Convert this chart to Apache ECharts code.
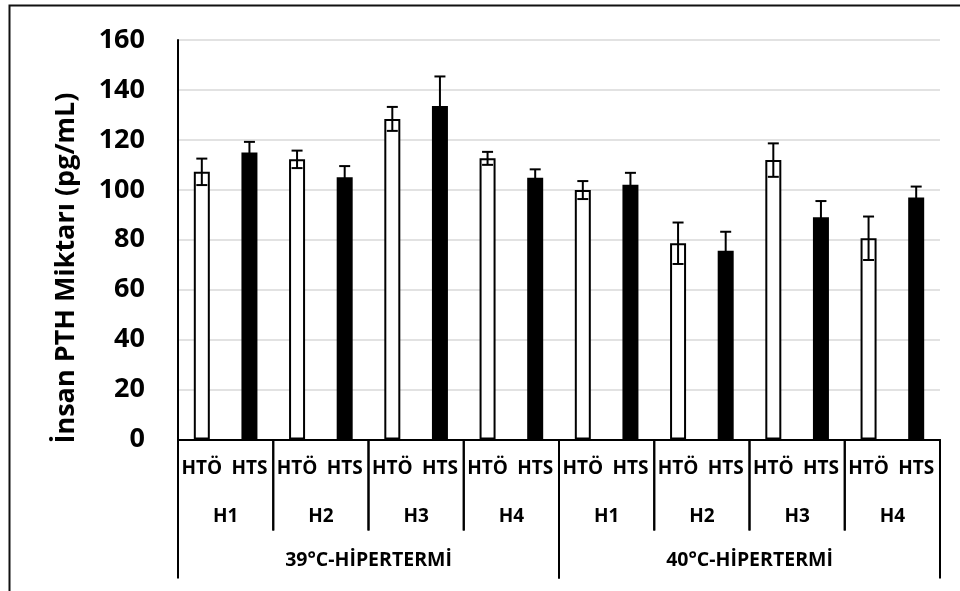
<!DOCTYPE html>
<html>
<head>
<meta charset="utf-8">
<script src="https://cdn.jsdelivr.net/npm/echarts@6/dist/echarts.min.js"></script>
<style>
  html, body { margin: 0; padding: 0; background: #fff; }
  #chart { width: 960px; height: 591px; }
</style>
</head>
<body>
<div id="chart"></div>
<script>
// Human PTH levels (pg/mL) per sample, treatment and hyperthermia temperature
const treatments = ['HTÖ', 'HTS'];
const subGroups = ['H1', 'H2', 'H3', 'H4', 'H1', 'H2', 'H3', 'H4'];
const tempGroups = ['39°C-HİPERTERMİ', '40°C-HİPERTERMİ'];
const htoMeans = [107.2, 112.2, 128.4, 112.6, 99.9, 78.6, 111.9, 80.6];
const htoErrors = [5.3, 3.5, 4.8, 2.6, 3.6, 8.3, 6.7, 8.7];
const htsMeans = [114.9, 105.0, 133.6, 104.8, 102.0, 75.6, 89.0, 96.9];
const htsErrors = [4.3, 4.5, 11.8, 3.4, 4.8, 7.6, 6.5, 4.4];
const yTicks = [0, 20, 40, 60, 80, 100, 120, 140, 160];
const yTitle = 'İnsan PTH Miktarı (pg/mL)';

const FONT = '"Open Sans"';

// Flatten into the 16 bottom-level categories
const categories = [];
const barData = [];
const errData = [];
subGroups.forEach((g, i) => {
  categories.push(treatments[0], treatments[1]);
  barData.push({
    value: htoMeans[i],
    itemStyle: { color: '#ffffff', borderColor: '#000', borderWidth: 2 }
  });
  barData.push({
    value: htsMeans[i],
    itemStyle: { color: '#000000', borderColor: '#000', borderWidth: 0 }
  });
  errData.push([2 * i, htoMeans[i], htoErrors[i]]);
  errData.push([2 * i + 1, htsMeans[i], htsErrors[i]]);
});

// Bracket rows under the axis: [startIndex, endIndex, label, level]
const bracketData = [];
subGroups.forEach((g, i) => bracketData.push([2 * i, 2 * i + 1, g, 1]));
tempGroups.forEach((g, i) => bracketData.push([8 * i, 8 * i + 7, g, 2]));

const chart = echarts.init(document.getElementById('chart'), null, { renderer: 'canvas' });

function renderError(params, api) {
  const x = api.value(0), m = api.value(1), e = api.value(2);
  const top = api.coord([x, m + e]);
  const bot = api.coord([x, m - e]);
  const cap = 5.5;
  const st = { stroke: '#000', lineWidth: 2, fill: null };
  return {
    type: 'group',
    children: [
      { type: 'line', shape: { x1: top[0], y1: top[1], x2: bot[0], y2: bot[1] }, style: st },
      { type: 'line', shape: { x1: top[0] - cap, y1: top[1], x2: top[0] + cap, y2: top[1] }, style: st },
      { type: 'line', shape: { x1: bot[0] - cap, y1: bot[1], x2: bot[0] + cap, y2: bot[1] }, style: st }
    ]
  };
}

function renderBracket(params, api) {
  const s = api.value(0), e = api.value(1), level = api.value(3);
  const label = bracketData[params.dataIndex][2];
  const band = api.size([1, 0])[0];
  const p0 = api.coord([s, 0]);
  const p1 = api.coord([e, 0]);
  const xl = p0[0] - band / 2;
  const xr = p1[0] + band / 2;
  const y0 = p0[1];
  const yEnd = level === 1 ? y0 + 91 : y0 + 139;
  const labelY = level === 1 ? y0 + 77.5 : y0 + 121;
  const size = level === 1 ? 19 : 19.5;
  const st = { stroke: '#000', lineWidth: 2 };
  return {
    type: 'group',
    children: [
      { type: 'line', shape: { x1: xl, y1: y0, x2: xl, y2: yEnd }, style: st },
      { type: 'line', shape: { x1: xr, y1: y0, x2: xr, y2: yEnd }, style: st },
      {
        type: 'text',
        style: {
          x: (xl + xr) / 2, y: labelY, text: label,
          fill: '#000', font: 'bold ' + size + 'px ' + FONT,
          textAlign: 'center', textVerticalAlign: 'middle'
        }
      }
    ]
  };
}

chart.setOption({
  animation: false,
  backgroundColor: '#ffffff',
  grid: { left: 178, right: 20, top: 40, bottom: 151.5, containLabel: false },
  xAxis: {
    type: 'category',
    data: categories,
    axisLine: { show: true, lineStyle: { color: '#000', width: 2 } },
    axisTick: { show: false },
    axisLabel: {
      interval: 0, margin: 20, color: '#000',
      fontFamily: FONT, fontWeight: 'bold', fontSize: 19
    },
    splitLine: { show: false }
  },
  yAxis: {
    type: 'value',
    min: yTicks[0], max: yTicks[yTicks.length - 1], interval: 20,
    axisLine: { show: true, lineStyle: { color: '#000', width: 2 } },
    axisTick: { show: false },
    axisLabel: {
      margin: 33, color: '#000',
      fontFamily: FONT, fontWeight: 'bold', fontSize: 27
    },
    splitLine: { show: true, lineStyle: { color: '#d9d9d9', width: 1.5 } }
  },
  series: [
    {
      type: 'bar',
      data: barData,
      barWidth: 16,
      z: 2
    },
    {
      type: 'custom',
      renderItem: renderError,
      data: errData,
      encode: { x: 0, y: 1 },
      z: 3
    },
    {
      type: 'custom',
      renderItem: renderBracket,
      data: bracketData.map(d => [d[0], d[1], 0, d[3]]),
      encode: { x: [0, 1], y: 2 },
      clip: false,
      silent: true,
      z: 4
    }
  ],
  graphic: [
    {
      type: 'rect',
      shape: { x: 9.5, y: 5.5, width: 1000, height: 700 },
      style: { fill: null, stroke: '#111', lineWidth: 2 },
      silent: true
    },
    {
      type: 'text',
      x: 66, y: 268,
      rotation: Math.PI / 2,
      style: {
        text: yTitle, fill: '#000',
        font: 'bold 27px ' + FONT,
        textAlign: 'center', textVerticalAlign: 'middle'
      },
      silent: true
    }
  ]
});
</script>
</body>
</html>
